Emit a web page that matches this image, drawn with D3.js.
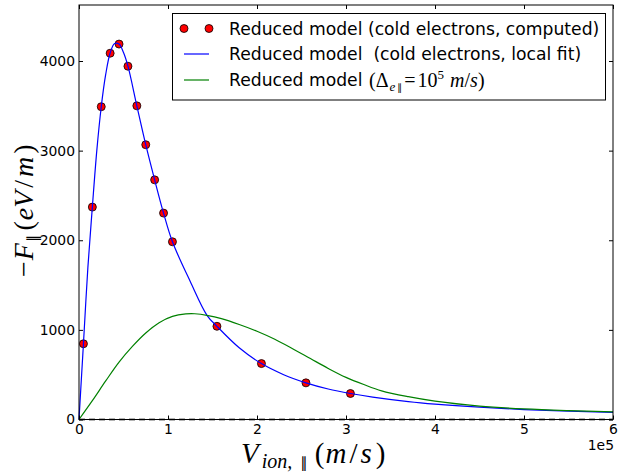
<!DOCTYPE html>
<html><head><meta charset="utf-8">
<script src="https://cdn.jsdelivr.net/npm/d3@7"></script>
<style>
html,body{margin:0;padding:0;background:#fff;}
svg{display:block;}
</style></head>
<body>
<svg id="chart" width="621" height="473"></svg>
<script>
// ---- data (x in m/s, y in eV/m) ----
const dotX = [5e3, 15e3, 25e3, 35e3, 45e3, 55e3, 65e3, 75e3, 85e3, 95e3, 105e3, 155e3, 205e3, 255e3, 305e3];
const dotY = [845, 2370, 3490, 4087, 4189, 3942, 3500, 3066, 2674, 2303, 1983, 1040, 624, 409, 290];

const blueX = [0, 2e3, 5e3, 10e3, 15e3, 20e3, 25e3, 30e3, 35e3, 40e3, 45e3, 50e3, 55e3, 65e3, 75e3, 85e3, 95e3, 105e3, 125e3, 144e3, 155e3, 180e3, 205e3, 230e3, 255e3, 280e3, 305e3, 330e3, 370e3, 400e3, 450e3, 500e3, 550e3, 600e3];
const blueY = [0, 340, 845, 1700, 2370, 3000, 3490, 3850, 4089, 4195, 4190, 4095, 3942, 3500, 3066, 2674, 2303, 1983, 1540, 1160, 1040, 800, 624, 500, 409, 340, 290, 250, 200, 172, 137, 111, 94, 80];

const greenX = [0, 15e3, 30e3, 45e3, 60e3, 75e3, 90e3, 105e3, 120e3, 130e3, 145e3, 160e3, 180e3, 200e3, 220e3, 240e3, 260e3, 280e3, 300e3, 320e3, 340e3, 370e3, 400e3, 450e3, 500e3, 550e3, 600e3];
const greenY = [0, 210, 430, 640, 815, 965, 1080, 1150, 1178, 1180, 1160, 1125, 1060, 985, 895, 790, 680, 570, 470, 390, 320, 255, 205, 150, 118, 99, 86];

const xTicks = [0, 1e5, 2e5, 3e5, 4e5, 5e5, 6e5];
const xTickLabels = ["0", "1", "2", "3", "4", "5", "6"];
const yTicks = [0, 1000, 2000, 3000, 4000];
const yTickLabels = ["0", "1000", "2000", "3000", "4000"];
const legendLabels = ["Reduced model (cold electrons, computed)", "Reduced model  (cold electrons, local fit)"];

// ---- layout ----
const L = 79, T = 5, R = 613, B = 419.5;
const svg = d3.select("#chart");
const x = d3.scaleLinear().domain([0, 6e5]).range([L, R]);
const y = d3.scaleLinear().domain([0, 4625]).range([B, T]);

const tickFont = "DejaVu Sans, sans-serif";
const tfs = "13.9px";

// dots
const dots = dotX.map((d, i) => [d, dotY[i]]);
svg.append("g").selectAll("circle").data(dots).join("circle")
  .attr("cx", d => x(d[0])).attr("cy", d => y(d[1])).attr("r", 4)
  .attr("fill", "#ff0000").attr("stroke", "#000").attr("stroke-width", 0.8);

const line = d3.line().x(d => x(d[0])).y(d => y(d[1])).curve(d3.curveCatmullRom.alpha(0.5));
svg.append("path").datum(blueX.map((d, i) => [d, blueY[i]]))
  .attr("d", line).attr("fill", "none").attr("stroke", "#0000ff").attr("stroke-width", 1.2);
svg.append("path").datum(greenX.map((d, i) => [d, greenY[i]]))
  .attr("d", line).attr("fill", "none").attr("stroke", "#008000").attr("stroke-width", 1.2);

// dashed zero line
svg.append("line").attr("x1", x(0)).attr("x2", x(6e5)).attr("y1", y(0)).attr("y2", y(0))
  .attr("stroke", "#666").attr("stroke-width", 2).attr("stroke-dasharray", "6,4");

// frame
svg.append("rect").attr("x", L).attr("y", T).attr("width", R - L).attr("height", B - T)
  .attr("fill", "none").attr("stroke", "#000").attr("stroke-width", 1);

// axes via d3 axis (inward ticks)
const xAxis = d3.axisBottom(x).tickValues(xTicks).tickFormat((d, i) => xTickLabels[i]).tickSizeInner(-4).tickSizeOuter(0).tickPadding(8);
const gx = svg.append("g").attr("transform", `translate(0,${B})`).call(xAxis);
const xTop = d3.axisTop(x).tickValues(xTicks).tickFormat("").tickSizeInner(-4).tickSizeOuter(0);
const gxt = svg.append("g").attr("transform", `translate(0,${T})`).call(xTop);
const yAxis = d3.axisLeft(y).tickValues(yTicks).tickFormat((d, i) => yTickLabels[i]).tickSizeInner(-4).tickSizeOuter(0).tickPadding(8);
const gy = svg.append("g").attr("transform", `translate(${L},0)`).call(yAxis);
const yRight = d3.axisRight(y).tickValues(yTicks).tickFormat("").tickSizeInner(-4).tickSizeOuter(0);
const gyr = svg.append("g").attr("transform", `translate(${R},0)`).call(yRight);
[gx, gxt, gy, gyr].forEach(g => {
  g.select(".domain").remove();
  g.selectAll("line").attr("stroke", "#000");
  g.selectAll("text").attr("font-family", tickFont).attr("font-size", tfs).attr("fill", "#000");
});
gx.selectAll("text").attr("dy", "0.71em").attr("y", 5);
gy.selectAll("text").attr("x", -4);

// offset text
svg.append("text").attr("x", R + 1).attr("y", 450).attr("text-anchor", "end")
  .attr("font-family", tickFont).attr("font-size", tfs).text("1e5");

// axis labels (math style)
const mathFont = "Liberation Serif, DejaVu Serif, serif";
const parFont = "DejaVu Sans, sans-serif";
const PAR = "\u2225";
const xl = svg.append("text").attr("x", 241).attr("y", 463)
  .attr("font-family", mathFont).attr("font-size", "29px").attr("font-style", "italic");
xl.append("tspan").text("V");
xl.append("tspan").attr("font-size", "20px").attr("dx", 3).attr("dy", 5).text("ion,");
xl.append("tspan").attr("font-size", "15px").attr("font-family", parFont).attr("font-style", "normal").attr("dx", 8).text(PAR);
xl.append("tspan").attr("dy", -5).attr("dx", 7).attr("font-style", "normal").text("(");
xl.append("tspan").attr("dx", 1).text("m");
xl.append("tspan").attr("dx", 3).attr("font-style", "normal").text("/");
xl.append("tspan").attr("dx", 3).text("s");
xl.append("tspan").attr("dx", 4).attr("font-style", "normal").text(")");

const yl = svg.append("text").attr("transform", "translate(33,277) rotate(-90)")
  .attr("font-family", mathFont).attr("font-size", "28px").attr("font-style", "italic");
yl.append("tspan").attr("font-style", "normal").text("\u2212");
yl.append("tspan").attr("dx", 1).text("F");
yl.append("tspan").attr("font-size", "15px").attr("font-family", parFont).attr("dy", 5).attr("dx", 1).attr("font-style", "normal").text(PAR);
yl.append("tspan").attr("dy", -5).attr("dx", 4).attr("font-style", "normal").text("(");
yl.append("tspan").attr("dx", 1).text("eV");
yl.append("tspan").attr("dx", 3).attr("font-style", "normal").text("/");
yl.append("tspan").attr("dx", 3).text("m");
yl.append("tspan").attr("dx", 3).attr("font-style", "normal").text(")");

// legend
const lg = svg.append("g");
lg.append("rect").attr("x", 172.5).attr("y", 13.5).attr("width", 433).attr("height", 86.5)
  .attr("fill", "#fff").attr("stroke", "#000").attr("stroke-width", 1);
const rowY = [28.5, 54, 80];
const lfs = "17.2px";
[184, 209].forEach(cx => lg.append("circle").attr("cx", cx).attr("cy", rowY[0]).attr("r", 4)
  .attr("fill", "#ff0000").attr("stroke", "#000").attr("stroke-width", 0.8));
lg.append("line").attr("x1", 184).attr("x2", 209).attr("y1", rowY[1]).attr("y2", rowY[1]).attr("stroke", "#0000ff").attr("stroke-width", 1.2);
lg.append("line").attr("x1", 184).attr("x2", 209).attr("y1", rowY[2]).attr("y2", rowY[2]).attr("stroke", "#008000").attr("stroke-width", 1.2);
legendLabels.forEach((t, i) => lg.append("text").attr("x", 229).attr("y", rowY[i]).attr("dy", "0.36em")
  .attr("font-family", tickFont).attr("font-size", lfs).style("white-space", "pre").text(t));
lg.append("text").attr("x", 229).attr("y", rowY[2]).attr("dy", "0.36em")
  .attr("font-family", tickFont).attr("font-size", lfs).style("white-space", "pre").text("Reduced model");
const t3 = lg.append("text").attr("x", 369).attr("y", rowY[2]).attr("dy", "0.36em")
  .attr("font-family", mathFont).attr("font-size", "20px");
t3.append("tspan").text("(\u0394");
t3.append("tspan").attr("font-size", "13px").attr("font-style", "italic").attr("dx", 1).attr("dy", 4).text("e");
t3.append("tspan").attr("font-size", "10px").attr("font-family", parFont).attr("dx", 2).text(PAR);
t3.append("tspan").attr("dy", -4).attr("dx", 2).text("=");
t3.append("tspan").attr("dx", 2).text("10");
t3.append("tspan").attr("font-size", "13px").attr("dy", -8).text("5");
t3.append("tspan").attr("font-style", "italic").attr("dy", 8).attr("dx", 6).text("m");
t3.append("tspan").text("/");
t3.append("tspan").attr("font-style", "italic").text("s");
t3.append("tspan").text(")");
</script>
</body></html>
